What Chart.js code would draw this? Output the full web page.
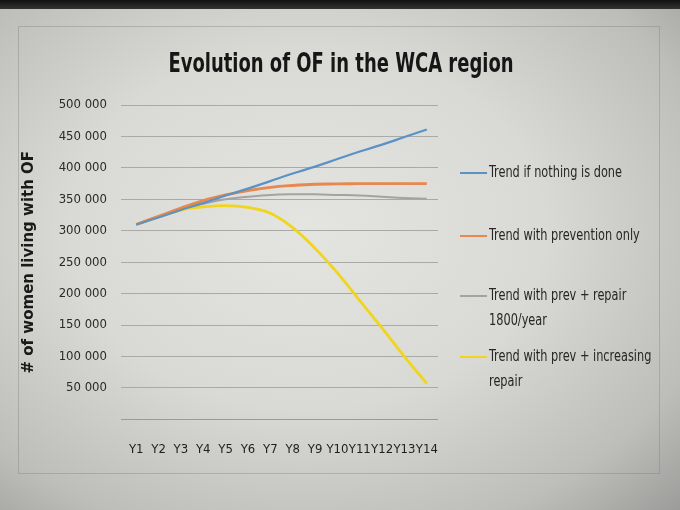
<!DOCTYPE html>
<html>
<head>
<meta charset="utf-8">
<script src="https://cdn.jsdelivr.net/npm/chart.js@4.4.1/dist/chart.umd.min.js"></script>
<style>
  html, body { margin: 0; padding: 0; }
  body {
    width: 680px; height: 510px; overflow: hidden; position: relative;
    background: radial-gradient(ellipse at 45% 45%, #e4e4e0 0%, #d9d9d5 45%, #bdbdba 80%, #9c9c9a 100%);
  }
  #topband { position: absolute; left: 0; top: 0; width: 680px; height: 9px; background: linear-gradient(#111, #333); }
  #frame {
    position: absolute; left: 18px; top: 26px; width: 640px; height: 446px;
    border: 1px solid rgba(120,120,120,0.35);
  }
  #wrap { position: absolute; left: 0; top: 0; width: 680px; height: 510px; }
</style>
</head>
<body>
<div id="topband"></div>
<div id="frame"></div>
<div id="wrap"><canvas id="chart"></canvas></div>
<script>
const years = ['Y1', 'Y2', 'Y3', 'Y4', 'Y5', 'Y6', 'Y7', 'Y8', 'Y9', 'Y10', 'Y11', 'Y12', 'Y13', 'Y14'];

const nothingDone = [310000, 321000, 333000, 344000, 356000, 367000, 379000, 391000, 402000, 414000, 426000, 437000, 449000, 461000];
const preventionOnly = [310000, 323000, 336000, 348000, 357000, 364000, 369000, 372000, 374000, 374500, 375000, 375000, 375000, 375000];
const prevRepair1800 = [310000, 323000, 335000, 343000, 350000, 354000, 357000, 358000, 358000, 357000, 356000, 354000, 352000, 351000];
const prevIncreasing = [310000, 322000, 333000, 338000, 340000, 337000, 328000, 305000, 272000, 233000, 189000, 145000, 100000, 57000];

const seriesLabels = [
    ['Trend if nothing is done'],
    ['Trend with prevention only'],
    ['Trend with prev + repair', '1800/year'],
    ['Trend with prev + increasing', 'repair']
];
const yTicks = [50000, 100000, 150000, 200000, 250000, 300000, 350000, 400000, 450000, 500000];
const chartTitle = 'Evolution of OF in the WCA region';

const colors = ['#5b92c6', '#e8884c', '#a3a3a1', '#f1d51c'];
const narrow = '"Liberation Sans Narrow", "DejaVu Sans Condensed", "Roboto Condensed", Roboto, sans-serif';

// squeeze text a bit, the original font is a narrow one
function narrowText(ctx, text, x, y, squeeze) {
    const w = ctx.measureText(text).width;
    ctx.fillText(text, x, y, w * squeeze);
}

// title over the whole frame + legend at the right of the plot
const decorations = {
    id: 'decorations',
    afterDraw(chart) {
        const ctx = chart.ctx;
        const area = chart.chartArea;
        ctx.save();
        ctx.fillStyle = '#161616';
        ctx.font = 'bold 27px ' + narrow;
        ctx.textAlign = 'center';
        ctx.textBaseline = 'middle';
        narrowText(ctx, chartTitle, 341, 65, 0.74);

        const rows = [173, 236, 296, 357];
        ctx.textAlign = 'left';
        chart.data.datasets.forEach((ds, i) => {
            const y = rows[i];
            const x = area.right + 22;
            ctx.strokeStyle = ds.borderColor;
            ctx.lineWidth = 2;
            ctx.beginPath();
            ctx.moveTo(x, y);
            ctx.lineTo(x + 27, y);
            ctx.stroke();
            ctx.fillStyle = '#262626';
            ctx.font = '15px ' + narrow;
            seriesLabels[i].forEach((line, j) => {
                narrowText(ctx, line, x + 29, y + j * 25, 0.84);
            });
        });
        ctx.restore();
    }
};

function makeSet(label, data, color, width) {
    return {
        label: label,
        data: data,
        borderColor: color,
        backgroundColor: color,
        borderWidth: width,
        pointRadius: 0,
        tension: 0.4,
        fill: false
    };
}

const config = {
    type: 'line',
    data: {
        labels: years,
        datasets: [
            makeSet(seriesLabels[0].join(' '), nothingDone, colors[0], 2.2),
            makeSet(seriesLabels[1].join(' '), preventionOnly, colors[1], 2.8),
            makeSet(seriesLabels[2].join(' '), prevRepair1800, colors[2], 2),
            makeSet(seriesLabels[3].join(' '), prevIncreasing, colors[3], 2.8)
        ]
    },
    options: {
        responsive: true,
        maintainAspectRatio: false,
        animation: false,
        layout: { padding: { top: 105, left: 16, right: 242, bottom: 39 } },
        scales: {
            x: {
                offset: true,
                grid: { display: false },
                border: { display: false },
                ticks: {
                    autoSkip: false,
                    maxRotation: 0,
                    padding: 14,
                    color: '#1e1e1e',
                    font: { family: narrow, size: 13 }
                }
            },
            y: {
                min: 0,
                max: 500000,
                afterBuildTicks: axis => {
                    axis.ticks = [0].concat(yTicks).map(v => ({ value: v }));
                },
                afterFit: axis => { axis.width = 109; },
                grid: {
                    color: ctx => ctx.tick && ctx.tick.value === 0 ? '#9a9a98' : '#a9a9a7',
                    lineWidth: 1,
                    tickLength: 4
                },
                border: { display: false },
                ticks: {
                    padding: 14,
                    color: '#2a2a2a',
                    font: { family: narrow, size: 13 },
                    callback: v => v === 0 ? '' : String(v).replace(/\B(?=(\d{3})+(?!\d))/g, ' ')
                },
                title: {
                    display: true,
                    text: '# of women living with OF',
                    color: '#1a1a1a',
                    padding: { top: 4, bottom: 0 },
                    font: { family: 'Verdana, "DejaVu Sans", sans-serif', size: 15, weight: 'bold' }
                }
            }
        },
        plugins: {
            legend: { display: false },
            tooltip: { enabled: false },
            title: { display: false }
        }
    },
    plugins: [decorations]
};

new Chart(document.getElementById('chart').getContext('2d'), config);
</script>
</body>
</html>
